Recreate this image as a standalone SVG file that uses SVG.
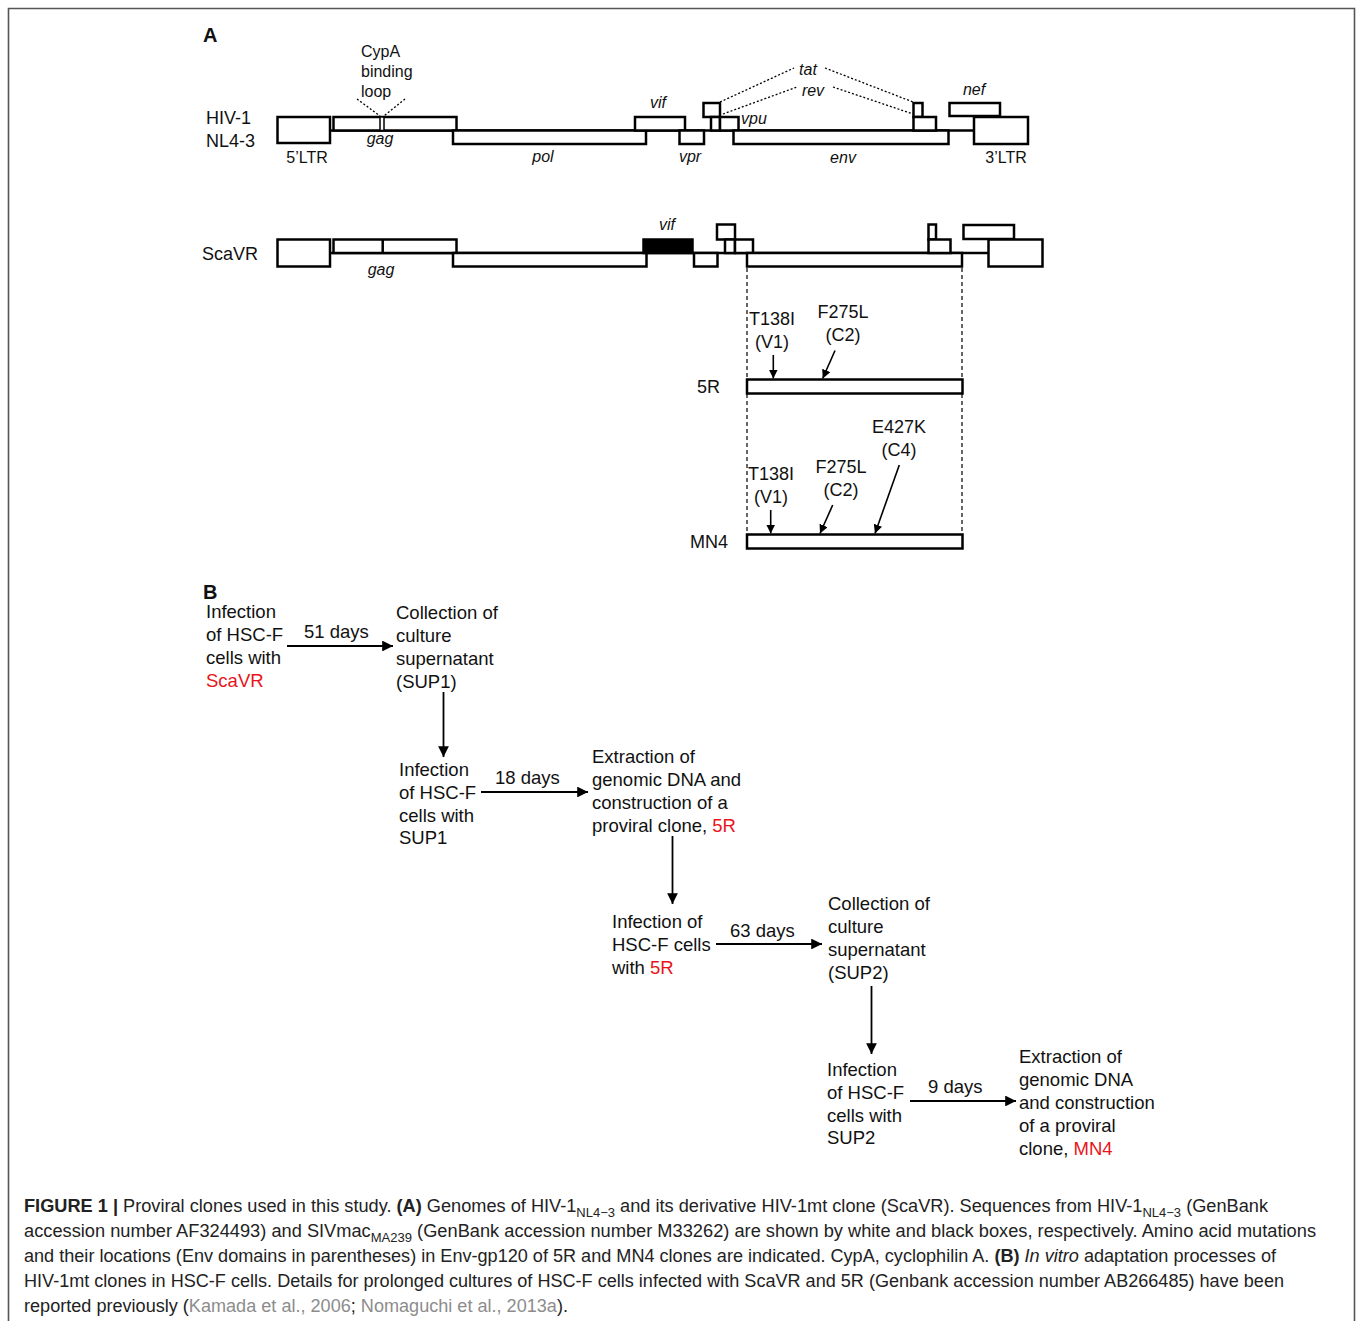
<svg xmlns="http://www.w3.org/2000/svg" width="1358" height="1321" viewBox="0 0 1358 1321">
<defs>
<style>
text{font-family:"Liberation Sans",Arial,sans-serif;fill:#111;}
.lbl{font-size:18px;}
.gene{font-size:16px;font-style:italic;}
.small{font-size:16px;}
.mut{font-size:18px;}
.pb{font-size:18.5px;}
.red{fill:#e8141b;}
.cap{font-size:17.5px;fill:#222;}
.cite{fill:#8c8c8c;}
.box{fill:#fff;stroke:#000;stroke-width:2.5;}
.blk{fill:#000;stroke:#000;stroke-width:2.5;}
.ln{stroke:#000;stroke-width:2.5;fill:none;}
.dot{stroke:#000;stroke-width:1.3;stroke-dasharray:2 2;fill:none;}
.dash{stroke:#000;stroke-width:1.2;stroke-dasharray:4 3;fill:none;}
.arr{stroke:#000;stroke-width:1.6;fill:none;}
.arrB{stroke:#000;stroke-width:1.8;fill:none;}
</style>
<marker id="ah" viewBox="0 0 10 10" refX="10" refY="5" markerWidth="5.5" markerHeight="5.5" orient="auto" markerUnits="strokeWidth">
<path d="M0,0 L10,5 L0,10 z" fill="#000"/>
</marker>
<marker id="ahB" viewBox="0 0 10 10" refX="10" refY="5" markerWidth="6" markerHeight="6" orient="auto" markerUnits="strokeWidth">
<path d="M0,0 L10,5 L0,10 z" fill="#000"/>
</marker>
</defs>
<rect x="0" y="0" width="1358" height="1321" fill="#fff"/>
<path d="M8.5,1330 L8.5,8.5 L1354.5,8.5 L1354.5,1330" fill="none" stroke="#555" stroke-width="1.6"/>

<g id="panelA-label"><text x="203" y="42" style="font-size:20px;font-weight:bold">A</text></g>

<g id="hiv1-genome">
<text class="lbl" x="206" y="124">HIV-1</text>
<text class="lbl" x="206" y="147">NL4-3</text>
<line class="ln" x1="330" y1="130.5" x2="974" y2="130.5"/>
<rect class="box" x="277.5" y="117" width="52.5" height="26"/>
<rect class="box" x="333.5" y="117" width="123" height="13.5"/>
<rect class="box" x="380" y="117" width="4" height="13.5" style="stroke-width:1.5"/>
<rect class="box" x="453" y="130.5" width="193" height="13.5"/>
<rect class="box" x="635" y="117" width="50" height="13.5"/>
<rect class="box" x="679.5" y="130.5" width="24.5" height="13.5"/>
<rect class="box" x="703.5" y="103" width="16.5" height="14"/>
<rect class="box" x="711" y="117" width="9" height="13.5"/>
<rect class="box" x="720" y="117" width="18.5" height="13.5"/>
<rect class="box" x="733.5" y="130.5" width="215" height="13.5"/>
<rect class="box" x="913.5" y="103" width="9" height="14"/>
<rect class="box" x="913.5" y="117" width="22.5" height="13.5"/>
<rect class="box" x="949.5" y="103" width="50.5" height="13"/>
<rect class="box" x="974" y="117" width="54" height="27"/>
<line class="dot" x1="357" y1="99" x2="380" y2="116"/>
<line class="dot" x1="405" y1="99" x2="384" y2="116"/>
<line class="dot" x1="720" y1="102" x2="794" y2="68"/>
<line class="dot" x1="825" y1="68" x2="913" y2="102"/>
<line class="dot" x1="723" y1="114" x2="797" y2="87"/>
<line class="dot" x1="833" y1="87" x2="913" y2="114"/>
<text class="small" x="361" y="57">CypA</text>
<text class="small" x="361" y="77">binding</text>
<text class="small" x="361" y="97">loop</text>
<text class="gene" x="380" y="144" text-anchor="middle">gag</text>
<text class="small" x="307" y="163" text-anchor="middle">5’LTR</text>
<text class="gene" x="543" y="162" text-anchor="middle">pol</text>
<text class="gene" x="658" y="108" text-anchor="middle">vif</text>
<text class="gene" x="690" y="162" text-anchor="middle">vpr</text>
<text class="gene" x="741" y="124">vpu</text>
<text class="gene" x="843" y="163" text-anchor="middle">env</text>
<text class="gene" x="974" y="95" text-anchor="middle">nef</text>
<text class="small" x="1006" y="163" text-anchor="middle">3’LTR</text>
<text class="gene" x="808" y="75" text-anchor="middle">tat</text>
<text class="gene" x="813" y="96" text-anchor="middle">rev</text>
</g>

<g id="scavr-genome">
<text class="lbl" x="202" y="260">ScaVR</text>
<line class="ln" x1="330" y1="253" x2="989" y2="253"/>
<rect class="box" x="277.5" y="239.5" width="52.5" height="27"/>
<rect class="box" x="333.5" y="239.5" width="123" height="13.5"/>
<line class="ln" x1="382.7" y1="239.5" x2="382.7" y2="253"/>
<rect class="box" x="453" y="253" width="193.5" height="13.5"/>
<rect class="blk" x="643.5" y="239.5" width="49" height="13.5"/>
<rect class="box" x="694" y="253" width="23.5" height="13.5"/>
<rect class="box" x="717" y="224.5" width="18" height="15"/>
<rect class="box" x="725" y="239.5" width="10" height="13.5"/>
<rect class="box" x="735" y="239.5" width="18" height="13.5"/>
<rect class="box" x="747" y="253" width="215" height="13.5"/>
<rect class="box" x="928.5" y="224.5" width="7.5" height="15"/>
<rect class="box" x="928.5" y="239.5" width="22" height="13.5"/>
<rect class="box" x="963.5" y="225" width="50.5" height="14"/>
<rect class="box" x="988.5" y="239.5" width="54" height="27"/>
<text class="gene" x="667" y="230" text-anchor="middle">vif</text>
<text class="gene" x="381" y="275" text-anchor="middle">gag</text>
</g>

<g id="connectors">
<line class="dash" x1="747" y1="268" x2="747" y2="548"/>
<line class="dash" x1="962" y1="268" x2="962" y2="548"/>
<line class="arr" x1="773.3" y1="355" x2="773.3" y2="378.5" marker-end="url(#ah)"/>
<line class="arr" x1="835" y1="350.5" x2="822.7" y2="378.5" marker-end="url(#ah)"/>
<line class="arr" x1="770.7" y1="510" x2="770.7" y2="533.5" marker-end="url(#ah)"/>
<line class="arr" x1="832.7" y1="505" x2="820" y2="533.5" marker-end="url(#ah)"/>
<line class="arr" x1="899.3" y1="465" x2="875" y2="533.5" marker-end="url(#ah)"/>
<line class="arrB" x1="287" y1="646" x2="393" y2="646" marker-end="url(#ahB)"/>
<line class="arrB" x1="443.5" y1="692" x2="443.5" y2="757" marker-end="url(#ahB)"/>
<line class="arrB" x1="481" y1="792" x2="588" y2="792" marker-end="url(#ahB)"/>
<line class="arrB" x1="672.5" y1="836" x2="672.5" y2="904" marker-end="url(#ahB)"/>
<line class="arrB" x1="716" y1="944" x2="822" y2="944" marker-end="url(#ahB)"/>
<line class="arrB" x1="871.5" y1="986" x2="871.5" y2="1054" marker-end="url(#ahB)"/>
<line class="arrB" x1="910" y1="1101" x2="1016" y2="1101" marker-end="url(#ahB)"/>
</g>

<g id="clone-5R">
<text class="lbl" x="720" y="393" text-anchor="end">5R</text>
<rect class="box" x="747" y="379.5" width="215.5" height="14"/>
<text class="mut" x="749" y="325">T138I</text>
<text class="mut" x="755" y="348">(V1)</text>
<text class="mut" x="843" y="318" text-anchor="middle">F275L</text>
<text class="mut" x="843" y="341" text-anchor="middle">(C2)</text>
</g>

<g id="clone-MN4">
<text class="lbl" x="728" y="548" text-anchor="end">MN4</text>
<rect class="box" x="747" y="534.5" width="215.5" height="14"/>
<text class="mut" x="748" y="480">T138I</text>
<text class="mut" x="754" y="503">(V1)</text>
<text class="mut" x="841" y="473" text-anchor="middle">F275L</text>
<text class="mut" x="841" y="496" text-anchor="middle">(C2)</text>
<text class="mut" x="899" y="433" text-anchor="middle">E427K</text>
<text class="mut" x="899" y="456" text-anchor="middle">(C4)</text>
</g>

<g id="panelB-label"><text x="203" y="599" style="font-size:20px;font-weight:bold">B</text></g>

<g id="step1">
<text class="pb" x="206" y="618">Infection</text>
<text class="pb" x="206" y="641">of HSC-F</text>
<text class="pb" x="206" y="664">cells with</text>
<text class="pb red" x="206" y="687">ScaVR</text>
</g>
<g id="label-51days"><text class="pb" x="304" y="638">51 days</text></g>
<g id="step2">
<text class="pb" x="396" y="619">Collection  of</text>
<text class="pb" x="396" y="642">culture</text>
<text class="pb" x="396" y="665">supernatant</text>
<text class="pb" x="396" y="688">(SUP1)</text>
</g>
<g id="step3">
<text class="pb" x="399" y="776">Infection</text>
<text class="pb" x="399" y="799">of HSC-F</text>
<text class="pb" x="399" y="822">cells with</text>
<text class="pb" x="399" y="844">SUP1</text>
</g>
<g id="label-18days"><text class="pb" x="495" y="784">18 days</text></g>
<g id="step4">
<text class="pb" x="592" y="763">Extraction  of</text>
<text class="pb" x="592" y="786">genomic DNA and</text>
<text class="pb" x="592" y="809">construction of a</text>
<text class="pb" x="592" y="832">proviral clone, <tspan class="red">5R</tspan></text>
</g>
<g id="step5">
<text class="pb" x="612" y="928">Infection of</text>
<text class="pb" x="612" y="951">HSC-F cells</text>
<text class="pb" x="612" y="974">with <tspan class="red">5R</tspan></text>
</g>
<g id="label-63days"><text class="pb" x="730" y="937">63 days</text></g>
<g id="step6">
<text class="pb" x="828" y="910">Collection of</text>
<text class="pb" x="828" y="933">culture</text>
<text class="pb" x="828" y="956">supernatant</text>
<text class="pb" x="828" y="979">(SUP2)</text>
</g>
<g id="step7">
<text class="pb" x="827" y="1076">Infection</text>
<text class="pb" x="827" y="1099">of HSC-F</text>
<text class="pb" x="827" y="1122">cells with</text>
<text class="pb" x="827" y="1144">SUP2</text>
</g>
<g id="label-9days"><text class="pb" x="928" y="1093">9 days</text></g>
<g id="step8">
<text class="pb" x="1019" y="1063">Extraction  of</text>
<text class="pb" x="1019" y="1086">genomic DNA</text>
<text class="pb" x="1019" y="1109">and construction</text>
<text class="pb" x="1019" y="1132">of a proviral</text>
<text class="pb" x="1019" y="1155">clone, <tspan class="red">MN4</tspan></text>
</g>

<g id="caption">
<text class="cap" x="24" y="1212" textLength="1244" lengthAdjust="spacingAndGlyphs"><tspan font-weight="bold">FIGURE 1 |</tspan> Proviral clones used in this study. <tspan font-weight="bold">(A)</tspan> Genomes of HIV-1<tspan font-size="12.5" dy="5">NL4−3</tspan><tspan dy="-5"> and its derivative HIV-1mt clone (ScaVR). Sequences from HIV-1</tspan><tspan font-size="12.5" dy="5">NL4−3</tspan><tspan dy="-5"> (GenBank</tspan></text>
<text class="cap" x="24" y="1237" textLength="1292" lengthAdjust="spacingAndGlyphs">accession number AF324493) and SIVmac<tspan font-size="12.5" dy="5">MA239</tspan><tspan dy="-5"> (GenBank accession number M33262) are shown by white and black boxes, respectively. Amino acid mutations</tspan></text>
<text class="cap" x="24" y="1262" textLength="1252" lengthAdjust="spacingAndGlyphs">and their locations (Env domains in parentheses) in Env-gp120 of 5R and MN4 clones are indicated. CypA, cyclophilin A. <tspan font-weight="bold">(B)</tspan> <tspan font-style="italic">In vitro</tspan> adaptation processes of</text>
<text class="cap" x="24" y="1287" textLength="1260" lengthAdjust="spacingAndGlyphs">HIV-1mt clones in HSC-F cells. Details for prolonged cultures of HSC-F cells infected with ScaVR and 5R (Genbank accession number AB266485) have been</text>
<text class="cap" x="24" y="1312" textLength="544" lengthAdjust="spacingAndGlyphs">reported previously (<tspan class="cite">Kamada et al., 2006</tspan>; <tspan class="cite">Nomaguchi et al., 2013a</tspan>).</text>
</g>
</svg>
